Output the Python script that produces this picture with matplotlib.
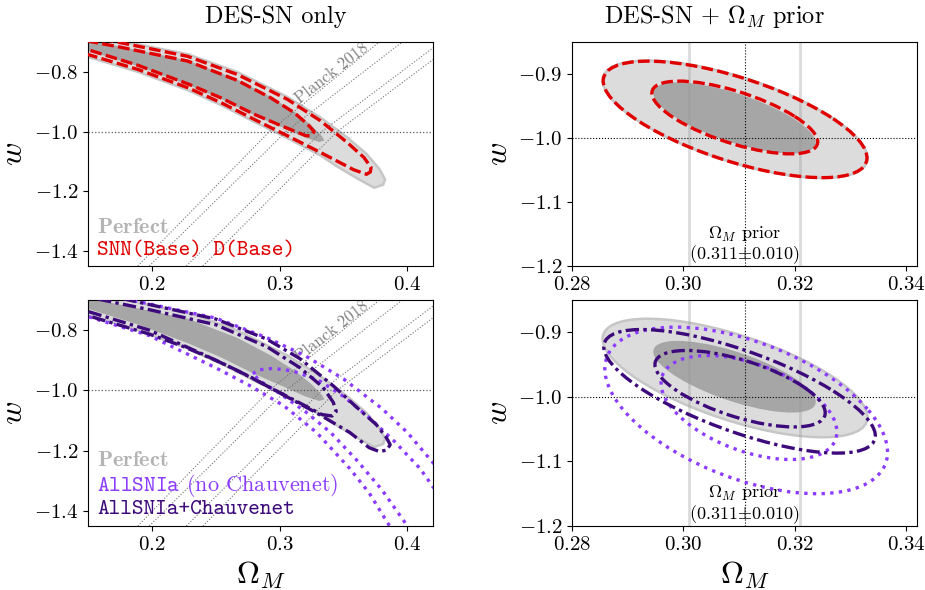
import numpy as np
import matplotlib
matplotlib.use("Agg")
import matplotlib.pyplot as plt
from matplotlib.patches import Ellipse

plt.rcParams.update({
    "font.family": "serif",
    "font.serif": ["cmr10"],
    "mathtext.fontset": "cm",
    "axes.formatter.use_mathtext": True,
    "xtick.labelsize": 15,
    "ytick.labelsize": 15,
})

# ---------------------------------------------------------------------------
#  Colours
# ---------------------------------------------------------------------------
RED = "#e10000"
DARKP = "#3c0a7a"
VIOLET = "#8c3cff"
FILL_OUT = "#dcdcdc"
FILL_IN = "#a6a6a6"
EDGE_OUT = "#c6c6c6"
PERF_TXT = "#b4b4b4"

# ---------------------------------------------------------------------------
#  DES-SN only panels: contour outlines (Omega_M, w)
# ---------------------------------------------------------------------------
# Perfect (same in both left panels)
perf_out_x = [0.10, 0.15, 0.176, 0.228, 0.267, 0.306, 0.332, 0.353, 0.368, 0.378, 0.3825,
              0.381, 0.374, 0.362, 0.345, 0.332, 0.306, 0.280, 0.254, 0.228, 0.189, 0.15, 0.10]
perf_out_y = [-0.62, -0.675, -0.697, -0.741, -0.801, -0.884, -0.953, -1.020, -1.075, -1.125, -1.160,
              -1.178, -1.188, -1.160, -1.117, -1.080, -1.022, -0.967, -0.911, -0.861, -0.800, -0.750, -0.69]
perf_in_x = [0.10, 0.15, 0.176, 0.228, 0.267, 0.293, 0.312, 0.325, 0.333, 0.335,
             0.331, 0.320, 0.306, 0.280, 0.254, 0.228, 0.189, 0.15, 0.10]
perf_in_y = [-0.64, -0.695, -0.716, -0.762, -0.826, -0.884, -0.935, -0.980, -1.015, -1.030,
             -1.035, -1.020, -0.993, -0.945, -0.890, -0.843, -0.781, -0.729, -0.67]

# SNN(Base) D(Base)
snn_out_x = [0.10, 0.15, 0.176, 0.228, 0.267, 0.306, 0.332, 0.353, 0.366, 0.3715, 0.371,
             0.368, 0.358, 0.332, 0.306, 0.280, 0.254, 0.228, 0.189, 0.15, 0.10]
snn_out_y = [-0.63, -0.68, -0.703, -0.748, -0.809, -0.892, -0.964, -1.037, -1.087, -1.120, -1.135,
             -1.143, -1.128, -1.070, -1.014, -0.959, -0.903, -0.853, -0.792, -0.742, -0.69]
snn_in_x = [0.10, 0.15, 0.176, 0.228, 0.267, 0.293, 0.3115, 0.322, 0.327, 0.3245,
            0.3206, 0.306, 0.280, 0.254, 0.228, 0.189, 0.15, 0.10]
snn_in_y = [-0.65, -0.697, -0.718, -0.764, -0.829, -0.887, -0.937, -0.976, -1.000, -1.014,
            -1.014, -0.989, -0.942, -0.887, -0.840, -0.778, -0.726, -0.675]

# AllSNIa+Chauvenet
chv_out_x = [0.10, 0.15, 0.198, 0.250, 0.290, 0.316, 0.342, 0.360, 0.3755, 0.3833, 0.3865,
             0.384, 0.378, 0.370, 0.355, 0.329, 0.303, 0.277, 0.250, 0.225, 0.198, 0.15, 0.10]
chv_out_y = [-0.62, -0.67, -0.715, -0.763, -0.830, -0.895, -0.985, -1.055, -1.113, -1.155, -1.180,
             -1.198, -1.203, -1.190, -1.140, -1.075, -1.015, -0.955, -0.900, -0.855, -0.813, -0.752, -0.70]
chv_in_x = [0.10, 0.15, 0.198, 0.250, 0.290, 0.316, 0.334, 0.342, 0.3443, 0.341,
            0.333, 0.315, 0.290, 0.265, 0.240, 0.198, 0.15, 0.10]
chv_in_y = [-0.64, -0.69, -0.732, -0.782, -0.855, -0.925, -0.990, -1.040, -1.070, -1.085,
            -1.080, -1.040, -0.985, -0.930, -0.880, -0.800, -0.738, -0.68]

# AllSNIa (no Chauvenet)
noch_out_x = [0.10, 0.15, 0.198, 0.250, 0.290, 0.320, 0.350, 0.380, 0.400, 0.420, 0.440,
              0.400, 0.386, 0.370, 0.355, 0.329, 0.303, 0.277, 0.250, 0.198, 0.15, 0.10]
noch_out_y = [-0.62, -0.67, -0.713, -0.760, -0.825, -0.885, -0.962, -1.060, -1.140, -1.240, -1.340,
              -1.580, -1.450, -1.340, -1.260, -1.140, -1.050, -0.985, -0.925, -0.818, -0.755, -0.70]
noch_in_x = [0.279, 0.283, 0.295, 0.310, 0.330, 0.350, 0.370, 0.390, 0.410, 0.420, 0.440,
             0.420, 0.400, 0.380, 0.360, 0.340, 0.320, 0.300, 0.285, 0.279]
noch_in_y = [-0.945, -0.932, -0.927, -0.935, -0.965, -1.020, -1.090, -1.170, -1.260, -1.320, -1.430,
             -1.600, -1.450, -1.330, -1.230, -1.140, -1.070, -1.010, -0.970, -0.945]

# Planck 2018 contour edges
planck_x = [[0.189, 0.292, 0.378], [0.198, 0.305, 0.396],
            [0.227, 0.333, 0.420], [0.240, 0.345, 0.420]]
planck_y = [[-1.45, -1.00, -0.70], [-1.45, -1.00, -0.70],
            [-1.45, -1.00, -0.72], [-1.45, -1.00, -0.759]]

# ---------------------------------------------------------------------------
#  DES-SN + Omega_M prior panels: ellipses (centre x, centre y, half-width x,
#  half-height y, correlation)
# ---------------------------------------------------------------------------
pr_perf_out = [0.3093, -0.9708, 0.0238, 0.0918, -0.66]
pr_perf_in = [0.3092, -0.9688, 0.0146, 0.0555, -0.70]
pr_snn_out = [0.3093, -0.9710, 0.0237, 0.0910, -0.66]
pr_snn_in = [0.30925, -0.9680, 0.0149, 0.0568, -0.67]
pr_chv_out = [0.3101, -0.9914, 0.0244, 0.0957, -0.72]
pr_chv_in = [0.3102, -0.9874, 0.0153, 0.0592, -0.63]
pr_noch_out = [0.3113, -1.0210, 0.0254, 0.1290, -0.50]
pr_noch_in = [0.3118, -1.0165, 0.0158, 0.0805, -0.47]

om_prior = 0.311
om_prior_err = 0.010

DASH = (0, (3.5, 1.3))
DASHDOT = (0, (4.0, 1.3, 1.0, 1.3))
DOT = (0, (1.0, 1.6))
LW = 2.4


def cov_ellipse(ax, p, **kw):
    cx, cy, sx, sy, rho = p
    C = np.array([[sx * sx, rho * sx * sy], [rho * sx * sy, sy * sy]])
    vals, vecs = np.linalg.eigh(C)
    ang = np.degrees(np.arctan2(vecs[1, 1], vecs[0, 1]))
    e = Ellipse((cx, cy), 2 * np.sqrt(vals[1]), 2 * np.sqrt(vals[0]), angle=ang, **kw)
    ax.add_patch(e)
    return e


def left_base(ax):
    ax.fill(perf_out_x, perf_out_y, fc=FILL_OUT, ec=EDGE_OUT, lw=1.8, zorder=1)
    ax.fill(perf_in_x, perf_in_y, fc=FILL_IN, ec="none", zorder=1.1)
    for px, py in zip(planck_x, planck_y):
        ax.plot(px, py, ls=":", color="0.45", lw=0.8, zorder=2)
    ax.text(0.341, -0.804, "Planck 2018", rotation=38, color="0.5", fontsize=12,
            ha="center", va="center", rotation_mode="anchor", zorder=2)
    ax.axhline(-1.0, color="0.35", ls=":", lw=0.9, zorder=2)
    ax.set_xlim(0.15, 0.42)
    ax.set_ylim(-1.45, -0.70)
    ax.set_xticks([0.2, 0.3, 0.4])
    ax.set_yticks([-0.8, -1.0, -1.2, -1.4])
    ax.set_ylabel(r"$w$", fontsize=23)


def right_base(ax):
    cov_ellipse(ax, pr_perf_out, fc=FILL_OUT, ec=EDGE_OUT, lw=1.8, zorder=1)
    cov_ellipse(ax, pr_perf_in, fc=FILL_IN, ec="none", zorder=1.1)
    for xv in (om_prior - om_prior_err, om_prior + om_prior_err):
        ax.axvline(xv, color="0.6", alpha=0.35, lw=2.0, zorder=1.5)
    ax.axvline(om_prior, color="k", ls=":", lw=0.8, zorder=2)
    ax.axhline(-1.0, color="k", ls=":", lw=0.8, zorder=2)
    ax.text(om_prior, -1.150, r"$\Omega_M$ prior", ha="center", va="center", fontsize=13)
    ax.text(om_prior, -1.183, r"$(0.311{\pm}0.010)$", ha="center", va="center", fontsize=13)
    ax.set_xlim(0.28, 0.342)
    ax.set_ylim(-1.2, -0.85)
    ax.set_xticks([0.28, 0.30, 0.32, 0.34])
    ax.set_yticks([-0.9, -1.0, -1.1, -1.2])
    ax.set_ylabel(r"$w$", fontsize=23)


fig = plt.figure(figsize=(9.25, 5.9), dpi=100)
ax_tl = fig.add_axes([0.0951, 0.5492, 0.373, 0.3797])
ax_tr = fig.add_axes([0.6184, 0.5492, 0.373, 0.3797])
ax_bl = fig.add_axes([0.0951, 0.1085, 0.373, 0.3830])
ax_br = fig.add_axes([0.6184, 0.1085, 0.373, 0.3830])

# --- top left: DES-SN only, SNN(Base) D(Base) ---
left_base(ax_tl)
ax_tl.plot(snn_out_x, snn_out_y, color=RED, ls=DASH, lw=LW, zorder=3)
ax_tl.plot(snn_in_x, snn_in_y, color=RED, ls=DASH, lw=LW, zorder=3)
ax_tl.text(0.026, 0.174, r"$\mathbf{Perfect}$", color=PERF_TXT, fontsize=16,
           transform=ax_tl.transAxes, va="center", zorder=5)
ax_tl.text(0.026, 0.071, "SNN(Base) D(Base)", family="cmtt10", color=RED, fontsize=16,
           transform=ax_tl.transAxes, va="center", zorder=5)

# --- top right: with Omega_M prior ---
right_base(ax_tr)
cov_ellipse(ax_tr, pr_snn_out, fill=False, ec=RED, ls=DASH, lw=LW, zorder=3)
cov_ellipse(ax_tr, pr_snn_in, fill=False, ec=RED, ls=DASH, lw=LW, zorder=3)

# --- bottom left ---
left_base(ax_bl)
ax_bl.plot(noch_out_x, noch_out_y, color=VIOLET, ls=DOT, lw=LW, zorder=3)
ax_bl.plot(noch_in_x, noch_in_y, color=VIOLET, ls=DOT, lw=LW, zorder=3)
ax_bl.plot(chv_out_x, chv_out_y, color=DARKP, ls=DASHDOT, lw=LW, zorder=3.1)
ax_bl.plot(chv_in_x, chv_in_y, color=DARKP, ls=DASHDOT, lw=LW, zorder=3.1)
ax_bl.text(0.026, 0.292, r"$\mathbf{Perfect}$", color=PERF_TXT, fontsize=16,
           transform=ax_bl.transAxes, va="center", zorder=5)
ax_bl.text(0.026, 0.177, r"$\mathtt{AllSNIa}$ (no Chauvenet)", color=VIOLET, fontsize=16,
           transform=ax_bl.transAxes, va="center", zorder=5)
ax_bl.text(0.026, 0.075, "AllSNIa+Chauvenet", family="cmtt10", color=DARKP, fontsize=16,
           transform=ax_bl.transAxes, va="center", zorder=5)
ax_bl.set_xlabel(r"$\Omega_M$", fontsize=23)

# --- bottom right ---
right_base(ax_br)
cov_ellipse(ax_br, pr_noch_out, fill=False, ec=VIOLET, ls=DOT, lw=LW, zorder=3)
cov_ellipse(ax_br, pr_noch_in, fill=False, ec=VIOLET, ls=DOT, lw=LW, zorder=3)
cov_ellipse(ax_br, pr_chv_out, fill=False, ec=DARKP, ls=DASHDOT, lw=LW, zorder=3.1)
cov_ellipse(ax_br, pr_chv_in, fill=False, ec=DARKP, ls=DASHDOT, lw=LW, zorder=3.1)
ax_br.set_xlabel(r"$\Omega_M$", fontsize=23)

fig.text(276 / 925, 1 - 17 / 590, "DES-SN only", ha="center", va="center", fontsize=17.5)
fig.text(714 / 925, 1 - 17 / 590, r"DES-SN + $\Omega_M$ prior", ha="center", va="center",
         fontsize=17.5)

fig.savefig("out.png", dpi=100)
